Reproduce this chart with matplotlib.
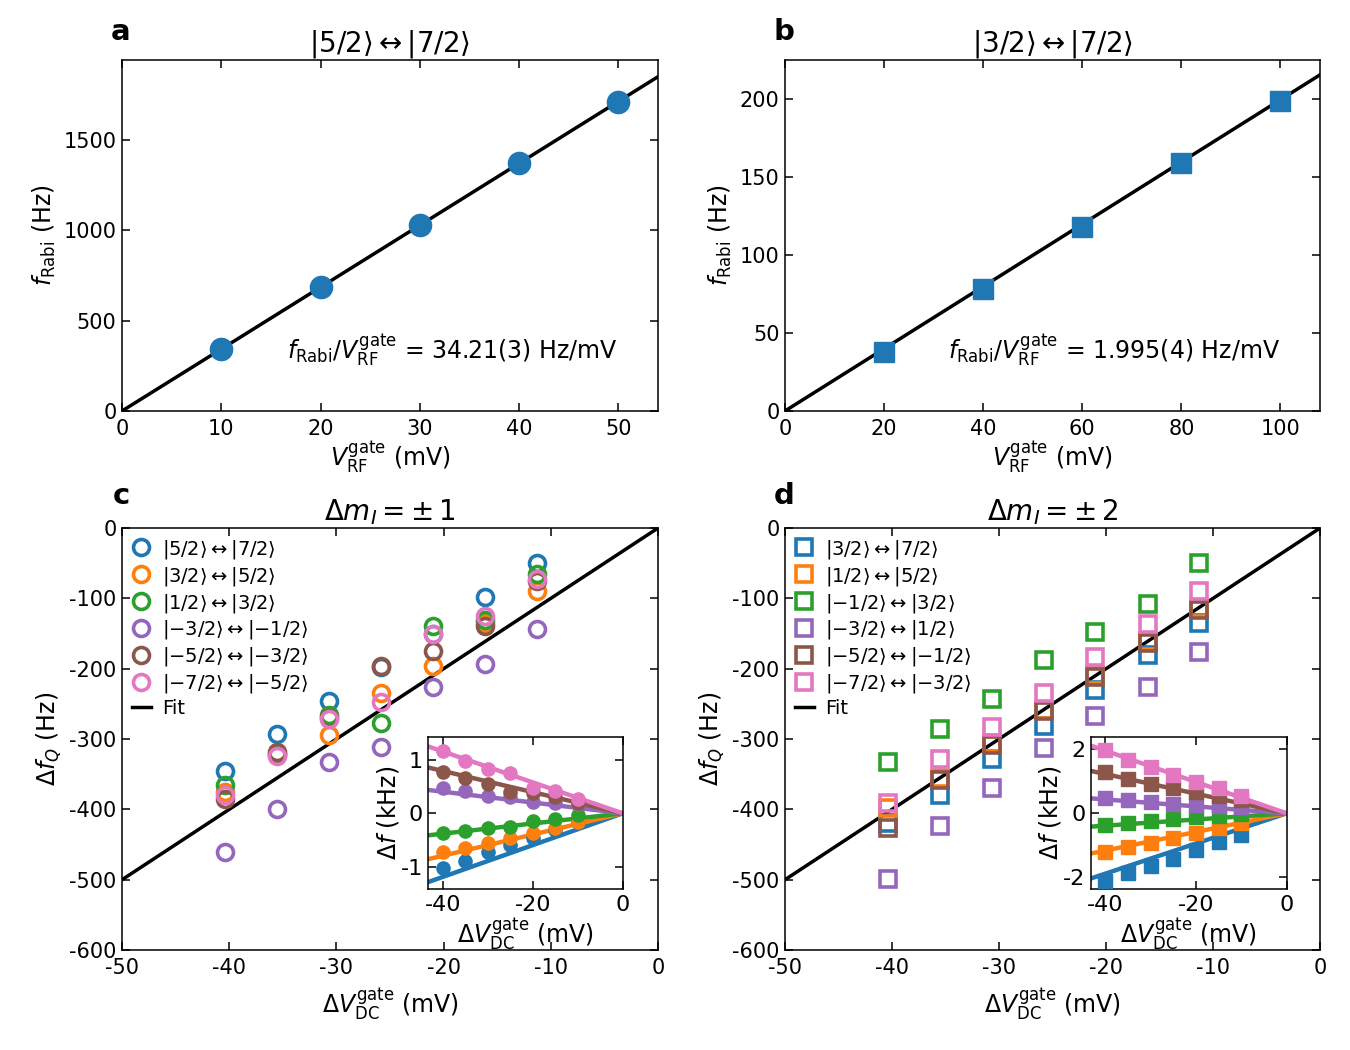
import numpy as np
import matplotlib
matplotlib.use("Agg")
import matplotlib.pyplot as plt

plt.rcParams['font.family'] = ['DejaVu Sans']
plt.rcParams['mathtext.fontset'] = 'dejavusans'
plt.rcParams['axes.unicode_minus'] = False

# panel a / b : Rabi frequency vs RF gate amplitude
a_vrf = [10, 20, 30, 40, 50]
a_frabi = [345, 686, 1030, 1368, 1710]
a_slope = 34.21
b_vrf = [20, 40, 60, 80, 100]
b_frabi = [38, 78, 118, 159, 199]
b_slope = 1.995

# panel c / d : quadrupole shift vs DC gate voltage
dv_main = [-40.4, -35.5, -30.7, -25.8, -21.0, -16.1, -11.3]   # main panels
dv_inset = [-40, -35, -30, -25, -20, -15, -10]                 # insets
fit_slope = 10.0  # Hz/mV

colors = ['#1f77b4', '#ff7f0e', '#2ca02c', '#9467bd', '#8c564b', '#e377c2']

c_labels = [r'$|5/2\rangle \leftrightarrow |7/2\rangle$',
            r'$|3/2\rangle \leftrightarrow |5/2\rangle$',
            r'$|1/2\rangle \leftrightarrow |3/2\rangle$',
            r'$|{-3/2}\rangle \leftrightarrow |{-1/2}\rangle$',
            r'$|{-5/2}\rangle \leftrightarrow |{-3/2}\rangle$',
            r'$|{-7/2}\rangle \leftrightarrow |{-5/2}\rangle$']
c_52_72 = [-345, -293, -246, -197, -150, -98, -49]
c_32_52 = [-375, -322, -294, -234, -196, -135, -89]
c_12_32 = [-366, -321, -266, -277, -139, -131, -66]
c_m32_m12 = [-461, -400, -332, -312, -226, -193, -144]
c_m52_m32 = [-385, -319, -270, -196, -175, -139, -76]
c_m72_m52 = [-380, -324, -272, -248, -151, -125, -73]

# inset c, kHz
ic_52_72 = [-1.03, -0.89, -0.73, -0.59, -0.46, -0.31, -0.17]
ic_32_52 = [-0.73, -0.64, -0.56, -0.47, -0.375, -0.27, -0.17]
ic_12_32 = [-0.36, -0.33, -0.27, -0.25, -0.14, -0.11, -0.03]
ic_m32_m12 = [0.47, 0.41, 0.33, 0.31, 0.22, 0.19, 0.17]
ic_m52_m32 = [0.77, 0.66, 0.54, 0.39, 0.375, 0.31, 0.19]
ic_m72_m52 = [1.16, 0.98, 0.83, 0.75, 0.47, 0.41, 0.26]
ic_slopes = [0.0297, 0.0198, 0.0095, -0.0101, -0.0198, -0.0289]

d_labels = [r'$|3/2\rangle \leftrightarrow |7/2\rangle$',
            r'$|1/2\rangle \leftrightarrow |5/2\rangle$',
            r'$|{-1/2}\rangle \leftrightarrow |3/2\rangle$',
            r'$|{-3/2}\rangle \leftrightarrow |1/2\rangle$',
            r'$|{-5/2}\rangle \leftrightarrow |{-1/2}\rangle$',
            r'$|{-7/2}\rangle \leftrightarrow |{-3/2}\rangle$']
d_32_72 = [-420, -380, -329, -281, -230, -181, -135]
d_12_52 = [-398, -355, -306, -258, -209, -161, -113]
d_m12_32 = [-332, -286, -243, -187, -148, -108, -49]
d_m32_12 = [-499, -424, -369, -313, -267, -226, -176]
d_m52_m12 = [-426, -358, -309, -260, -212, -163, -116]
d_m72_m32 = [-391, -329, -283, -234, -184, -136, -89]

# inset d, kHz
id_32_72 = [-2.11, -1.875, -1.64, -1.41, -1.15, -0.89, -0.66]
id_12_52 = [-1.22, -1.04, -0.91, -0.76, -0.60, -0.47, -0.30]
id_m12_32 = [-0.36, -0.31, -0.24, -0.19, -0.12, -0.08, -0.03]
id_m32_12 = [0.49, 0.43, 0.36, 0.30, 0.26, 0.22, 0.19]
id_m52_m12 = [1.28, 1.07, 0.91, 0.78, 0.66, 0.55, 0.42]
id_m72_m32 = [1.98, 1.67, 1.43, 1.20, 0.99, 0.78, 0.55]
id_slopes = [0.047, 0.029, 0.0096, -0.0108, -0.0306, -0.0488]

c_series = [c_52_72, c_32_52, c_12_32, c_m32_m12, c_m52_m32, c_m72_m52]
ic_series = [ic_52_72, ic_32_52, ic_12_32, ic_m32_m12, ic_m52_m32, ic_m72_m52]
d_series = [d_32_72, d_12_52, d_m12_32, d_m32_12, d_m52_m12, d_m72_m32]
id_series = [id_32_72, id_12_52, id_m12_32, id_m32_12, id_m52_m12, id_m72_m32]

TICK = 15
LAB = 17


def style(ax, size=TICK):
    ax.tick_params(direction='in', top=True, right=True, length=6, width=1.1,
                   labelsize=size)
    ax.tick_params(axis='x', pad=6)
    ax.tick_params(axis='y', pad=4)
    for s in ax.spines.values():
        s.set_linewidth(1.1)


fig = plt.figure(figsize=(13.5, 10.5), dpi=100)

# ---- a
ax = fig.add_axes([0.0904, 0.6086, 0.397, 0.3343])
xx = np.array([0, 60])
ax.plot(xx, a_slope * xx, color='k', lw=2.5, zorder=1)
ax.plot(a_vrf, a_frabi, 'o', color=colors[0], ms=16, zorder=2)
ax.set_xlim(0, 54)
ax.set_ylim(0, 1940)
ax.set_xticks([0, 10, 20, 30, 40, 50])
ax.set_yticks([0, 500, 1000, 1500])
ax.set_xlabel(r'$V_{\rm RF}^{\rm gate}$ (mV)', fontsize=LAB, labelpad=0)
ax.set_ylabel(r'$f_{\rm Rabi}$ (Hz)', fontsize=LAB)
ax.set_title(r'$|5/2\rangle \leftrightarrow |7/2\rangle$', fontsize=20, pad=6)
ax.text(0.925, 0.174, r'$f_{\rm Rabi}/V_{\rm RF}^{\rm gate}$ = 34.21(3) Hz/mV',
        transform=ax.transAxes, ha='right', va='center', fontsize=17)
style(ax)

# ---- b
ax = fig.add_axes([0.5815, 0.6086, 0.3963, 0.3343])
xx = np.array([0, 120])
ax.plot(xx, b_slope * xx, color='k', lw=2.5, zorder=1)
ax.plot(b_vrf, b_frabi, 's', color=colors[0], ms=15, zorder=2)
ax.set_xlim(0, 108)
ax.set_ylim(0, 225)
ax.set_xticks([0, 20, 40, 60, 80, 100])
ax.set_yticks([0, 50, 100, 150, 200])
ax.set_xlabel(r'$V_{\rm RF}^{\rm gate}$ (mV)', fontsize=LAB, labelpad=0)
ax.set_ylabel(r'$f_{\rm Rabi}$ (Hz)', fontsize=LAB)
ax.set_title(r'$|3/2\rangle \leftrightarrow |7/2\rangle$', fontsize=20, pad=6)
ax.text(0.925, 0.174, r'$f_{\rm Rabi}/V_{\rm RF}^{\rm gate}$ = 1.995(4) Hz/mV',
        transform=ax.transAxes, ha='right', va='center', fontsize=17)
style(ax)


def quad_panel(rect, inset_rect, series, labels, iseries, islopes, marker, ms,
               title, iylim, iyticks):
    ax = fig.add_axes(rect)
    xx = np.array([-60, 0])
    handles = []
    for k in range(6):
        h, = ax.plot(dv_main, series[k], marker, mfc='none', mec=colors[k],
                     mew=2.6, ms=ms, ls='none', label=labels[k], zorder=3)
        handles.append(h)
    hf, = ax.plot(xx, fit_slope * xx, color='k', lw=2.5, label='Fit', zorder=2)
    handles.append(hf)
    ax.set_xlim(-50, 0)
    ax.set_ylim(-600, 0)
    ax.set_xticks([-50, -40, -30, -20, -10, 0])
    ax.set_yticks([-600, -500, -400, -300, -200, -100, 0])
    ax.set_xlabel(r'$\Delta V_{\rm DC}^{\rm gate}$ (mV)', fontsize=LAB, labelpad=6)
    ax.set_ylabel(r'$\Delta f_Q$ (Hz)', fontsize=LAB)
    ax.set_title(title, fontsize=20, pad=6)
    ax.legend(handles=handles, loc='upper left', frameon=False, fontsize=14,
              handlelength=1.0, handletextpad=0.55, labelspacing=0.2,
              borderaxespad=0.3, borderpad=0.2, numpoints=1)
    style(ax)

    ins = fig.add_axes(inset_rect)
    xl = np.array([-45, 0])
    for k in range(6):
        ins.plot(xl, islopes[k] * xl, color=colors[k], lw=3.2, zorder=2)
        ins.plot(dv_inset, iseries[k], marker, color=colors[k], ms=9.5,
                 ls='none', zorder=3)
    ins.set_xlim(-43.2, 0)
    ins.set_ylim(*iylim)
    ins.set_xticks([-40, -20, 0])
    ins.set_yticks(iyticks)
    ins.set_xlabel(r'$\Delta V_{\rm DC}^{\rm gate}$ (mV)', fontsize=LAB, labelpad=1)
    ins.set_ylabel(r'$\Delta f$ (kHz)', fontsize=LAB, labelpad=0)
    style(ins, size=16)
    ins.tick_params(axis='x', pad=4)


quad_panel([0.0904, 0.0952, 0.397, 0.4019], [0.3173, 0.153, 0.144, 0.1448],
           c_series, c_labels, ic_series, ic_slopes, 'o', 11.5,
           r'$\Delta m_I = \pm\,1$', (-1.42, 1.42), [-1, 0, 1])
quad_panel([0.5815, 0.0952, 0.3963, 0.4019], [0.8081, 0.153, 0.145, 0.1448],
           d_series, d_labels, id_series, id_slopes, 's', 12,
           r'$\Delta m_I = \pm\,2$', (-2.37, 2.37), [-2, 0, 2])

for lab, x, y in [('a', 0.089, 0.97), ('b', 0.581, 0.97),
                  ('c', 0.090, 0.528), ('d', 0.581, 0.528)]:
    fig.text(x, y, lab, fontsize=21, weight='bold', ha='center', va='center')

fig.savefig('out.png', dpi=100)
